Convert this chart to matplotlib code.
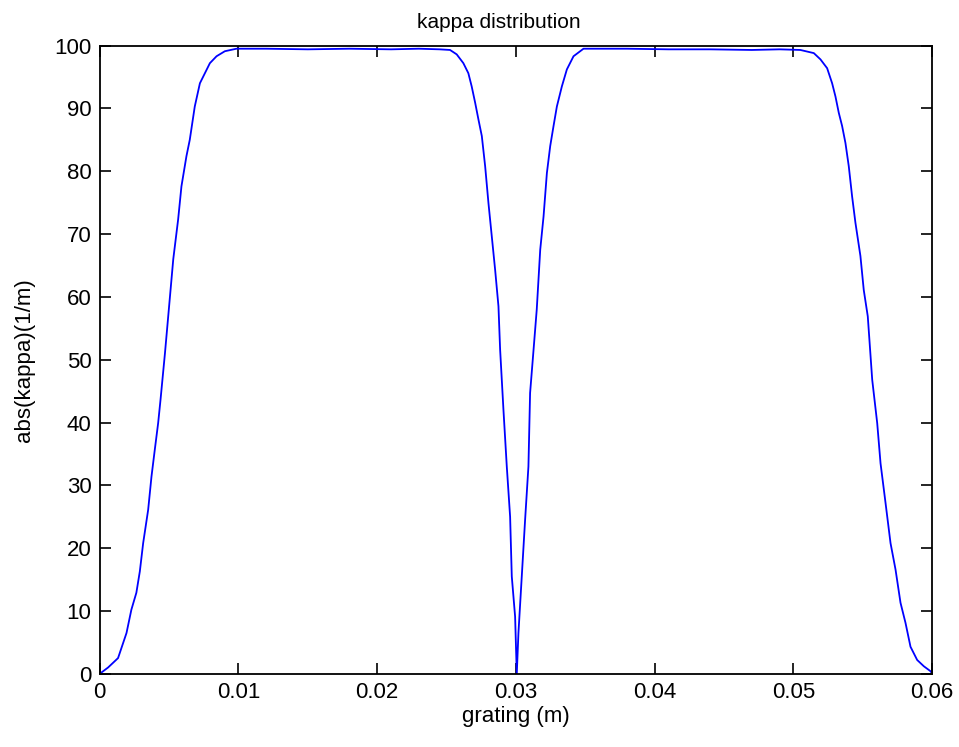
import matplotlib
matplotlib.use('Agg')
import matplotlib.pyplot as plt

plt.rcParams['font.family'] = ['Liberation Sans', 'DejaVu Sans']

# grating position (m) and |kappa| (1/m)
grating = [0.0, 0.0006, 0.00132, 0.00193, 0.00228, 0.00264, 0.00289, 0.00313,
           0.00349, 0.00373, 0.00397, 0.00421, 0.00438, 0.0047, 0.0050, 0.0053,
           0.00565, 0.00589, 0.00625, 0.00649, 0.00685, 0.00722, 0.00758,
           0.00794, 0.00842, 0.00902, 0.00986, 0.012, 0.015, 0.018, 0.021,
           0.023, 0.0245, 0.02525, 0.02573, 0.02621, 0.02657, 0.02681, 0.02706,
           0.0273, 0.02754, 0.02778, 0.02802, 0.02826, 0.0285, 0.02874, 0.02886,
           0.0291, 0.02934, 0.02958, 0.0297, 0.02994, 0.03006,
           0.03018, 0.03042, 0.03066, 0.0309, 0.03102, 0.03127, 0.0315,
           0.03175, 0.03199, 0.03223, 0.03247, 0.03271, 0.03295, 0.03331,
           0.03367, 0.03415, 0.03487, 0.038, 0.041, 0.044, 0.047, 0.049,
           0.0505, 0.05147, 0.05195, 0.05243, 0.05279, 0.05303, 0.05327,
           0.05351, 0.05375, 0.05399, 0.05423, 0.05447, 0.05483, 0.05507,
           0.05536, 0.05568, 0.05604, 0.05628, 0.05664, 0.057, 0.05736,
           0.05772, 0.05808, 0.05844, 0.05892, 0.0594, 0.05989, 0.06]
kappa = [0.0, 1.0, 2.5, 6.5, 10.2, 12.9, 16.3, 20.8,
         26.1, 31.4, 35.7, 39.9, 43.6, 51.0, 58.5, 66.0,
         72.3, 77.6, 82.4, 85.0, 90.3, 94.0, 95.6,
         97.2, 98.3, 99.1, 99.5, 99.5, 99.4, 99.5, 99.4,
         99.5, 99.4, 99.3, 98.6, 97.2, 95.6, 93.5, 90.9,
         88.2, 85.6, 80.8, 74.9, 69.6, 64.3, 58.5, 51.6,
         42.0, 33.0, 25.0, 15.5, 9.1, 0.0,
         6.5, 15.5, 24.5, 33.0, 44.7, 51.6, 58.0,
         67.5, 72.8, 79.7, 84.0, 87.2, 90.3, 93.5,
         96.2, 98.3, 99.5, 99.5, 99.4, 99.4, 99.3, 99.4,
         99.3, 98.8, 97.8, 96.4, 94.0, 91.9, 89.3,
         87.2, 84.5, 80.8, 76.0, 71.8, 66.5, 61.1,
         56.9, 46.8, 39.9, 33.5, 27.2, 20.8, 16.6,
         11.3, 8.1, 4.3, 2.2, 1.2, 0.4, 0.0]

xticks = [0, 0.01, 0.02, 0.03, 0.04, 0.05, 0.06]
xticklabels = ['0', '0.01', '0.02', '0.03', '0.04', '0.05', '0.06']
yticks = list(range(0, 101, 10))

fig = plt.figure(figsize=(9.59, 7.47), dpi=100)
ax = fig.add_axes([0.104, 0.098, 0.868, 0.841])
ax.plot(grating, kappa, color='#0000ff', linewidth=1.3)

ax.set_xlim(0, 0.06)
ax.set_ylim(0, 100)
ax.set_xticks(xticks)
ax.set_xticklabels(xticklabels)
ax.set_yticks(yticks)
ax.tick_params(direction='in', length=8, width=1.2, labelsize=16,
               top=True, right=True, pad=6)
for s in ax.spines.values():
    s.set_linewidth(1.3)

ax.set_title('kappa distribution', fontsize=15, pad=13, x=0.48)
ax.set_xlabel('grating (m)', fontsize=16, labelpad=2)
ax.set_ylabel('abs(kappa)(1/m)', fontsize=16, labelpad=14)

fig.savefig('out.png', dpi=100)
